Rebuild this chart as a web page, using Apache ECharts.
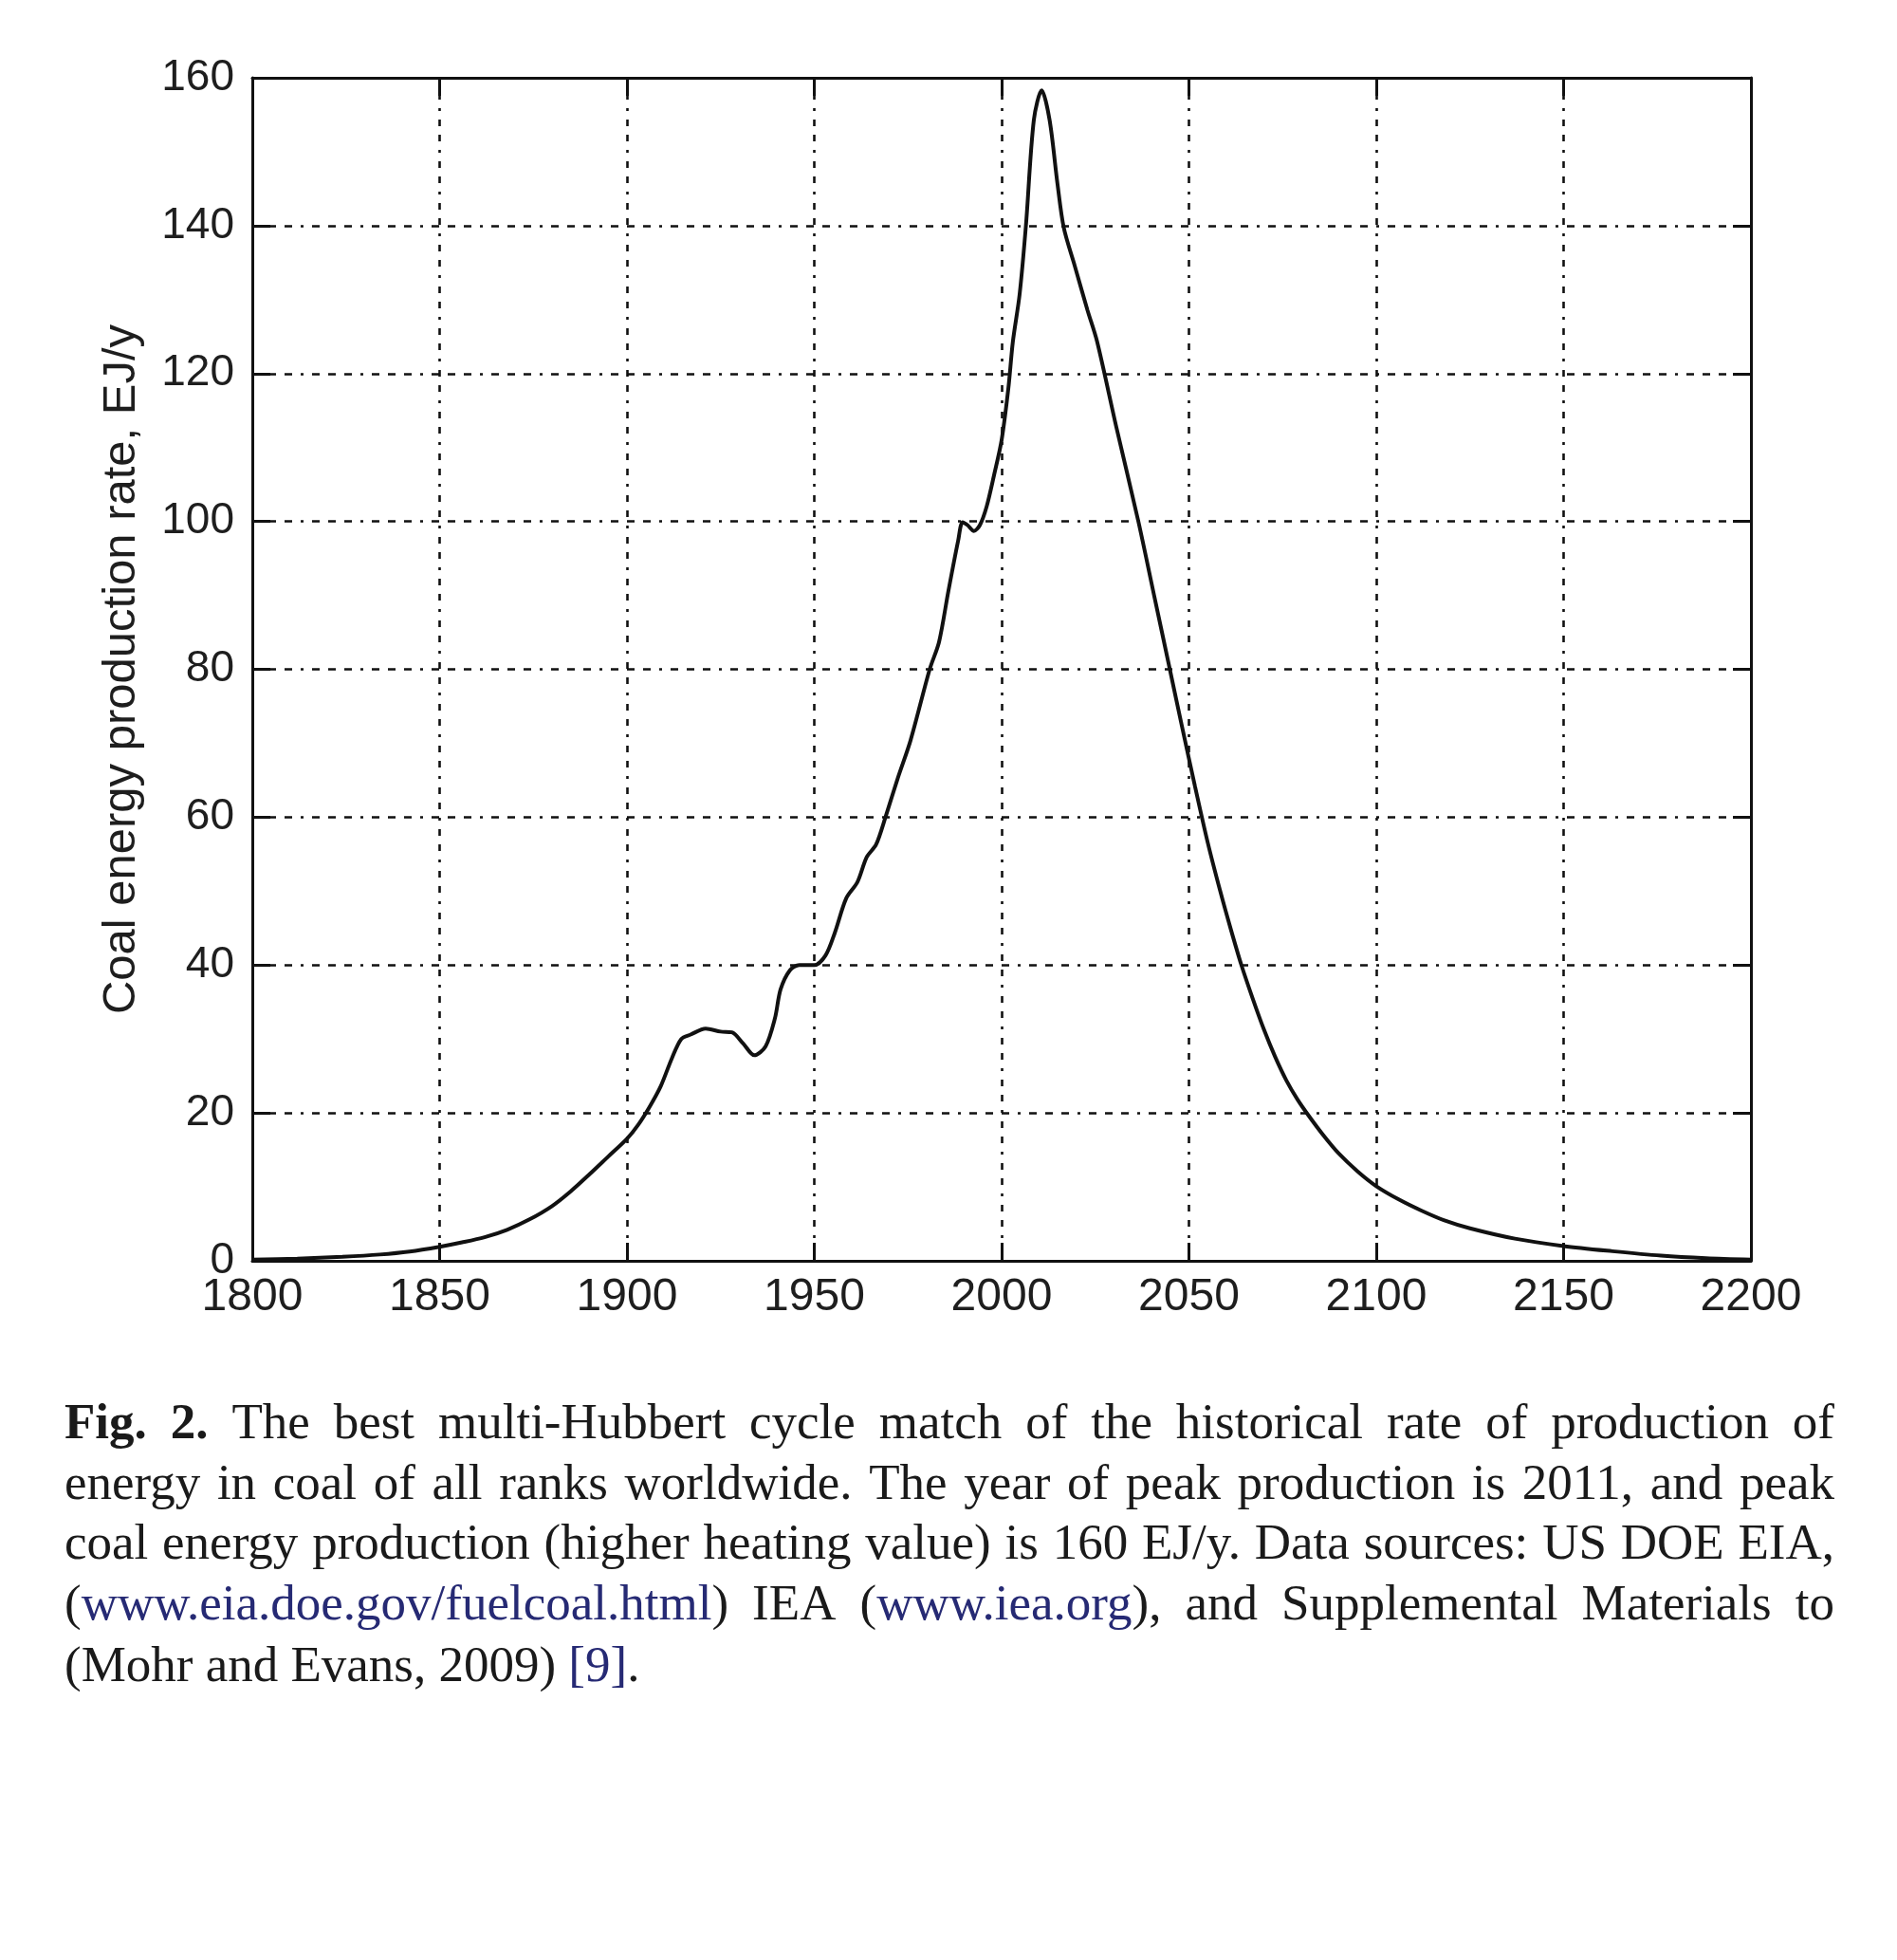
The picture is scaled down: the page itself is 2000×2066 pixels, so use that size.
<!DOCTYPE html>
<html><head><meta charset="utf-8">
<script src="https://cdn.jsdelivr.net/npm/echarts@6/dist/echarts.min.js"></script>
<style>html,body{margin:0;padding:0;background:#fff}#c{width:2000px;height:2066px}</style>
</head><body><div id="c"></div>
<script>
// ---- data ----
const years = [1800, 1812, 1824, 1834, 1842, 1850, 1856, 1862, 1868, 1874, 1880, 1885, 1890, 1895, 1900, 1903, 1906, 1909, 1912, 1914.5, 1917, 1921, 1925, 1928, 1931, 1934, 1937, 1939.5, 1941, 1943.5, 1946, 1950, 1953, 1955.5, 1958.5, 1961.5, 1964, 1966.5, 1969, 1972.3, 1975.7, 1980.8, 1983.3, 1985.8, 1988.4, 1989.6, 1990.9, 1992.6, 1994.2, 1996, 1998, 2000, 2001.8, 2003, 2004.8, 2006.5, 2008.6, 2010.7, 2012.8, 2014.9, 2016.6, 2019.5, 2022.9, 2025.5, 2030.6, 2036.5, 2040.7, 2044.9, 2048.3, 2051.6, 2055, 2058.4, 2061.2, 2064, 2067, 2070, 2073, 2076, 2079, 2082, 2086, 2090, 2095, 2100, 2106, 2112, 2118, 2125, 2137, 2150, 2163, 2176, 2188, 2200];
const values = [0.15, 0.3, 0.55, 0.85, 1.25, 1.9, 2.5, 3.2, 4.2, 5.6, 7.4, 9.4, 11.7, 14.1, 16.5, 18.4, 20.8, 23.6, 27.4, 30.0, 30.6, 31.4, 31.0, 30.9, 29.4, 27.8, 29.0, 32.8, 36.7, 39.3, 40.0, 40.0, 41.3, 44.4, 49.0, 51.2, 54.6, 56.3, 60.0, 65.3, 70.4, 80.0, 83.7, 90.6, 97.4, 99.9, 99.5, 98.7, 99.5, 102, 106.3, 111, 118, 124.3, 130.7, 140.1, 154.3, 158.3, 154.3, 145.7, 139.7, 134.6, 128.6, 124.3, 112.8, 100, 90, 80, 71.9, 64.2, 56.6, 49.9, 44.8, 40.0, 35.5, 31.3, 27.6, 24.4, 21.8, 19.6, 16.9, 14.5, 12.1, 10.1, 8.3, 6.8, 5.5, 4.4, 3.0, 2.0, 1.3, 0.7, 0.35, 0.15];
const xMin = 1800, xMax = 2200, xStep = 50;
const yMin = 0, yMax = 160, yStep = 20;
const yTitle = 'Coal energy production rate, EJ/y';
// * toggles bold, ~ toggles link colour
const captionLines = [
  '*Fig.* *2.* The best multi-Hubbert cycle match of the historical rate of production of',
  'energy in coal of all ranks worldwide. The year of peak production is 2011, and peak',
  'coal energy production (higher heating value) is 160 EJ/y. Data sources: US DOE EIA,',
  '(~www.eia.doe.gov/fuelcoal.html~) IEA (~www.iea.org~), and Supplemental Materials to',
  '(Mohr and Evans, 2009) ~[9]~.'
];

// ---- layout / style ----
const sansFont = '"Liberation Sans", Arial, sans-serif';
const serifFont = '"Liberation Serif", "Times New Roman", serif';
const capSize = 53;
const capLeft = 68, capRight = 1934;
const capCenters = [1502, 1566, 1629, 1693, 1758];
const hDash = [8, 9, 8, 9, 8, 9, 3, 9];
const vDash = [7, 9, 7, 9, 3, 9];

const chart = echarts.init(document.getElementById('c'), null, {renderer: 'canvas'});

function parseWord(w) {
  const runs = []; let b = false, u = false, cur = '';
  for (const ch of w) {
    if (ch === '*' || ch === '~') {
      if (cur) runs.push({t: cur, b, u});
      cur = '';
      if (ch === '*') b = !b; else u = !u;
    } else cur += ch;
  }
  if (cur) runs.push({t: cur, b, u});
  return runs;
}
const mctx = document.createElement('canvas').getContext('2d');
function fontStr(b) { return (b ? 'bold ' : 'normal ') + capSize + 'px ' + serifFont; }
function measure(t, b) { mctx.font = fontStr(b); return mctx.measureText(t).width; }

const graphics = [];
captionLines.forEach((line, li) => {
  const words = line.split(' ').map(parseWord);
  const widths = words.map(rs => rs.reduce((s, r) => s + measure(r.t, r.b), 0));
  const total = widths.reduce((a, b) => a + b, 0);
  const last = li === captionLines.length - 1;
  const gap = last ? measure(' ', false) : (capRight - capLeft - total) / (words.length - 1);
  let x = capLeft;
  words.forEach((rs) => {
    rs.forEach(r => {
      graphics.push({
        type: 'text', x: x, y: capCenters[li], silent: true,
        style: {
          text: r.t, font: fontStr(r.b), fill: r.u ? '#262a74' : '#1a1a1a',
          textAlign: 'left', verticalAlign: 'middle', textVerticalAlign: 'middle'
        }
      });
      x += measure(r.t, r.b);
    });
    x += gap;
  });
});

const axisLineStyle = {color: '#111', width: 3};
const tickStyle = {show: true, inside: true, length: 19, lineStyle: {color: '#111', width: 3}};

chart.setOption({
  backgroundColor: '#fff',
  animation: false,
  grid: {left: 266, right: 154, top: 82, bottom: 737, containLabel: false},
  xAxis: [{
    type: 'value', min: xMin, max: xMax, interval: xStep, position: 'bottom',
    axisLine: {show: true, onZero: false, lineStyle: axisLineStyle},
    axisTick: tickStyle,
    axisLabel: {margin: 15, fontSize: 48, fontFamily: sansFont, color: '#1e1e1e', showMinLabel: true, showMaxLabel: true,
      formatter: v => String(v)},
    splitLine: {show: true, lineStyle: {color: '#111', width: 2.6, type: vDash}}
  }, {
    type: 'value', min: xMin, max: xMax, interval: xStep, position: 'top',
    axisLine: {show: true, onZero: false, lineStyle: axisLineStyle},
    axisTick: tickStyle, axisLabel: {show: false}, splitLine: {show: false}
  }],
  yAxis: [{
    type: 'value', min: yMin, max: yMax, interval: yStep, position: 'left',
    axisLine: {show: true, onZero: false, lineStyle: axisLineStyle},
    axisTick: tickStyle,
    axisLabel: {margin: 19, fontSize: 46, fontFamily: sansFont, color: '#1e1e1e', showMinLabel: true, showMaxLabel: true,
      formatter: v => String(v)},
    splitLine: {show: true, lineStyle: {color: '#111', width: 2.6, type: hDash}},
    name: yTitle, nameLocation: 'middle', nameGap: 113,
    nameTextStyle: {fontSize: 49, fontFamily: sansFont, color: '#1e1e1e'}
  }, {
    type: 'value', min: yMin, max: yMax, interval: yStep, position: 'right',
    axisLine: {show: true, onZero: false, lineStyle: axisLineStyle},
    axisTick: tickStyle, axisLabel: {show: false}, splitLine: {show: false}
  }],
  series: [{
    type: 'line', xAxisIndex: 0, yAxisIndex: 0,
    data: years.map((y, i) => [y, values[i]]),
    showSymbol: false, smooth: 0.3, clip: true,
    lineStyle: {color: '#111', width: 4}
  }],
  graphic: graphics
});
</script></body></html>
